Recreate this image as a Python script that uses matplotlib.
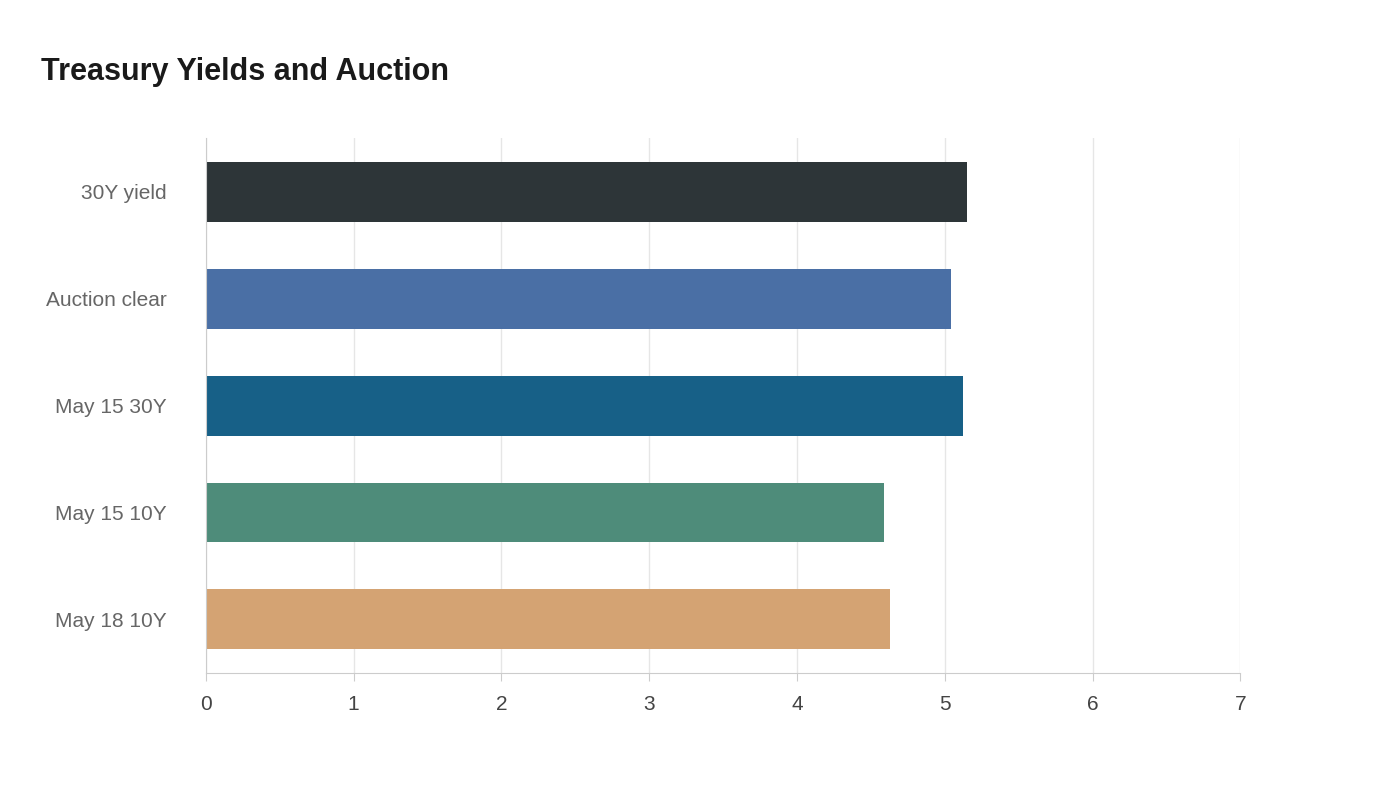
import matplotlib.pyplot as plt

plt.rcParams['font.family'] = ['Liberation Sans', 'DejaVu Sans']

labels = ['30Y yield', 'Auction clear', 'May 15 30Y', 'May 15 10Y', 'May 18 10Y']
values = [5.15, 5.04, 5.12, 4.59, 4.63]
colors = ['#2d3538', '#4a6fa5', '#176087', '#4e8c7a', '#d4a373']

fig = plt.figure(figsize=(14, 8), dpi=100)
ax = fig.add_axes([0.147, 0.159, 0.739, 0.668])
pos = list(range(len(labels)))[::-1]
ax.barh(pos, values, height=0.56, color=colors, zorder=2)
ax.set_xlim(0, 7)
ax.set_ylim(-0.5, 4.5)
ax.set_yticks(pos)
ax.set_yticklabels(labels, fontsize=15, color='#666666')
ax.set_xticks(range(8))
ax.tick_params(axis='x', labelsize=15, labelcolor='#444444', length=6, color='#cccccc', pad=10)
ax.tick_params(axis='y', length=0, pad=28)
ax.grid(axis='x', color='#e6e6e6', linewidth=1, zorder=0)
for s in ['top', 'right']:
    ax.spines[s].set_visible(False)
ax.spines['left'].set_color('#cccccc')
ax.spines['bottom'].set_color('#cccccc')
fig.text(0.029, 0.9, 'Treasury Yields and Auction', fontsize=22, fontweight='bold', color='#1a1a1a')
fig.savefig('out.png')
